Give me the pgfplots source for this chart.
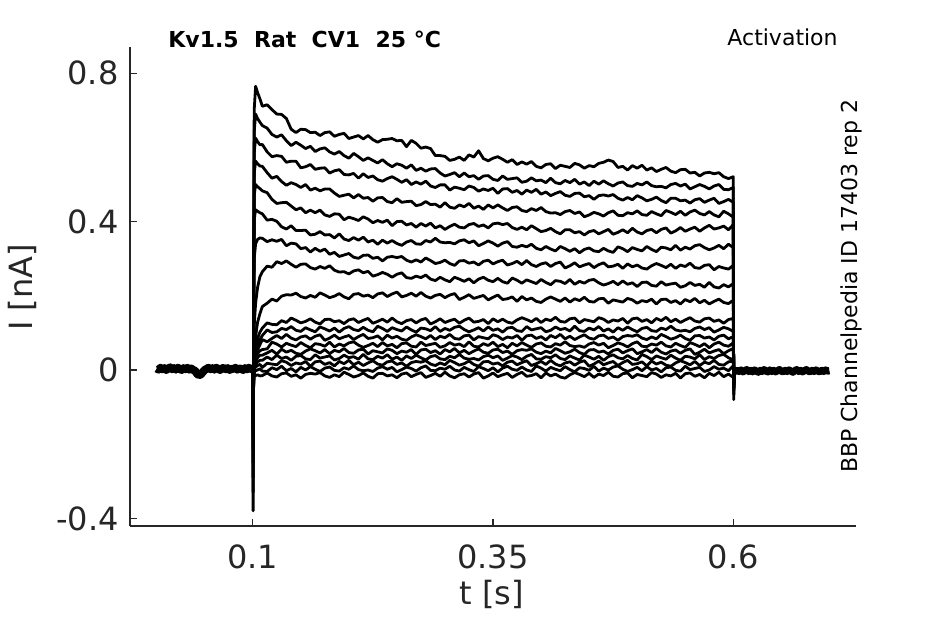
\documentclass[border=0pt]{standalone}
\usepackage{fontspec}
\setmainfont{DejaVu Sans}
\usepackage{pgfplots}
\usepackage{pgfplotstable}
\pgfplotsset{compat=1.18}
\definecolor{tickgray}{HTML}{262626}

\pgfplotstableread{
t T1 T2 T3 T4 T5 T6 T7 T8 T9 T10 T11 T12 T13 T14 T15 T16 T17 T18
0.1000 0.002 -0.001 0.003 0.000 -0.002 0.001 0.002 -0.001 0.000 0.003 -0.002 0.001 0.000 -0.003 0.002 0.001 -0.001 0.000
0.1004 -0.380 -0.330 -0.290 -0.250 -0.215 -0.185 -0.160 -0.140 -0.120 -0.105 -0.095 -0.085 -0.075 -0.065 -0.055 -0.050 -0.045 -0.040
0.1015 0.700 0.640 0.585 0.530 0.470 0.405 0.300 0.120 0.040 0.030 0.025 0.020 0.015 0.010 0.006 0.002 -0.005 -0.012
0.1030 0.765 0.690 0.625 0.563 0.500 0.432 0.340 0.180 0.090 0.060 0.050 0.040 0.032 0.024 0.015 0.008 -0.002 -0.015
0.1050 0.748 0.678 0.616 0.556 0.494 0.428 0.352 0.222 0.128 0.085 0.068 0.055 0.044 0.033 0.022 0.012 0.000 -0.013
0.1075 0.731 0.668 0.607 0.550 0.489 0.424 0.356 0.252 0.152 0.102 0.082 0.068 0.052 0.040 0.026 0.015 0.003 -0.016
0.110 0.711 0.659 0.608 0.549 0.483 0.421 0.355 0.265 0.171 0.113 0.093 0.082 0.055 0.040 0.026 0.007 -0.003 -0.015
0.115 0.715 0.652 0.588 0.532 0.478 0.404 0.346 0.280 0.180 0.127 0.108 0.076 0.057 0.046 0.035 0.018 -0.004 -0.008
0.120 0.702 0.635 0.575 0.517 0.460 0.406 0.351 0.277 0.191 0.123 0.101 0.085 0.075 0.053 0.028 0.016 0.006 -0.016
0.125 0.690 0.628 0.578 0.522 0.449 0.401 0.347 0.292 0.186 0.122 0.103 0.093 0.070 0.043 0.040 0.014 0.001 -0.019
0.130 0.689 0.634 0.576 0.508 0.451 0.386 0.352 0.287 0.199 0.133 0.112 0.085 0.062 0.056 0.031 0.025 0.010 -0.010
0.135 0.678 0.618 0.560 0.498 0.452 0.380 0.335 0.294 0.203 0.128 0.109 0.096 0.072 0.048 0.035 0.021 -0.002 -0.008
0.140 0.649 0.605 0.563 0.505 0.442 0.389 0.342 0.285 0.202 0.140 0.117 0.086 0.067 0.053 0.026 0.012 0.004 -0.017
0.145 0.640 0.614 0.563 0.500 0.432 0.376 0.340 0.277 0.207 0.134 0.107 0.081 0.063 0.045 0.037 0.019 -0.005 -0.013
0.150 0.649 0.606 0.545 0.492 0.437 0.376 0.327 0.285 0.198 0.127 0.104 0.089 0.074 0.042 0.039 0.016 0.007 -0.022
0.155 0.648 0.597 0.548 0.500 0.424 0.377 0.330 0.286 0.194 0.131 0.114 0.092 0.066 0.051 0.030 0.023 0.000 -0.012
0.160 0.640 0.603 0.554 0.485 0.431 0.364 0.318 0.276 0.201 0.138 0.108 0.083 0.060 0.057 0.028 0.010 0.009 -0.009
0.165 0.641 0.589 0.541 0.490 0.424 0.366 0.328 0.272 0.196 0.129 0.103 0.091 0.071 0.052 0.041 0.022 0.002 -0.011
0.170 0.632 0.596 0.544 0.483 0.431 0.373 0.320 0.279 0.208 0.124 0.116 0.095 0.069 0.046 0.032 0.024 -0.004 -0.007
0.175 0.640 0.599 0.545 0.488 0.418 0.364 0.326 0.274 0.202 0.136 0.111 0.080 0.064 0.055 0.035 0.015 0.005 -0.016
0.180 0.642 0.588 0.531 0.488 0.414 0.365 0.312 0.281 0.195 0.137 0.105 0.086 0.075 0.044 0.038 0.020 0.008 -0.020
0.185 0.630 0.582 0.537 0.477 0.421 0.356 0.317 0.269 0.199 0.130 0.113 0.094 0.062 0.053 0.027 0.011 -0.001 -0.013
0.190 0.635 0.589 0.540 0.468 0.420 0.367 0.306 0.264 0.206 0.133 0.102 0.084 0.070 0.049 0.031 0.023 -0.003 -0.018
0.195 0.638 0.578 0.527 0.471 0.405 0.353 0.310 0.265 0.197 0.125 0.112 0.089 0.065 0.058 0.040 0.017 0.006 -0.006
0.200 0.624 0.571 0.526 0.474 0.412 0.349 0.314 0.259 0.192 0.135 0.117 0.093 0.073 0.047 0.033 0.026 0.002 -0.012
0.205 0.628 0.584 0.530 0.464 0.408 0.357 0.304 0.267 0.204 0.138 0.109 0.082 0.076 0.045 0.036 0.014 0.011 -0.019
0.210 0.632 0.575 0.517 0.473 0.403 0.350 0.301 0.270 0.206 0.128 0.106 0.090 0.067 0.054 0.029 0.021 0.001 -0.015
0.215 0.623 0.565 0.529 0.463 0.413 0.358 0.309 0.262 0.199 0.134 0.115 0.096 0.061 0.056 0.042 0.012 -0.002 -0.008
0.220 0.632 0.572 0.519 0.465 0.407 0.345 0.310 0.266 0.202 0.139 0.107 0.085 0.066 0.043 0.030 0.019 0.000 -0.017
0.225 0.621 0.565 0.523 0.455 0.397 0.350 0.301 0.253 0.195 0.126 0.103 0.087 0.072 0.052 0.028 0.025 -0.004 -0.022
0.230 0.614 0.558 0.513 0.464 0.403 0.339 0.304 0.257 0.205 0.131 0.118 0.092 0.063 0.049 0.037 0.016 0.005 -0.010
0.235 0.621 0.567 0.509 0.465 0.398 0.350 0.294 0.263 0.208 0.137 0.112 0.081 0.074 0.046 0.032 0.013 0.009 -0.009
0.240 0.622 0.556 0.516 0.454 0.404 0.342 0.304 0.258 0.198 0.129 0.104 0.094 0.065 0.057 0.041 0.022 0.002 -0.016
0.245 0.624 0.548 0.521 0.451 0.389 0.349 0.306 0.250 0.205 0.140 0.114 0.086 0.069 0.053 0.029 0.024 0.007 -0.013
0.250 0.618 0.556 0.514 0.462 0.400 0.341 0.303 0.258 0.210 0.130 0.109 0.091 0.060 0.044 0.035 0.015 -0.005 -0.021
0.255 0.619 0.552 0.506 0.452 0.401 0.336 0.306 0.262 0.197 0.125 0.105 0.083 0.071 0.051 0.026 0.019 0.001 -0.011
0.260 0.602 0.544 0.513 0.454 0.391 0.345 0.296 0.249 0.201 0.133 0.116 0.080 0.073 0.048 0.038 0.010 0.008 -0.008
0.265 0.619 0.553 0.500 0.455 0.395 0.349 0.291 0.247 0.207 0.136 0.108 0.089 0.064 0.055 0.031 0.020 0.004 -0.018
0.270 0.611 0.538 0.507 0.443 0.385 0.340 0.297 0.253 0.199 0.127 0.102 0.095 0.062 0.042 0.040 0.023 -0.003 -0.012
0.275 0.598 0.544 0.501 0.446 0.395 0.339 0.291 0.249 0.209 0.135 0.113 0.090 0.075 0.054 0.033 0.021 0.006 -0.007
0.280 0.601 0.536 0.509 0.454 0.388 0.349 0.302 0.256 0.199 0.139 0.111 0.084 0.066 0.056 0.027 0.025 0.011 -0.020
0.285 0.597 0.542 0.496 0.446 0.396 0.345 0.295 0.245 0.194 0.124 0.106 0.093 0.069 0.047 0.036 0.016 -0.001 -0.015
0.290 0.578 0.543 0.492 0.447 0.383 0.355 0.287 0.241 0.201 0.130 0.117 0.082 0.072 0.052 0.039 0.012 -0.002 -0.009
0.295 0.578 0.531 0.499 0.439 0.389 0.345 0.290 0.250 0.204 0.138 0.104 0.091 0.061 0.043 0.030 0.019 0.005 -0.017
0.300 0.576 0.523 0.499 0.451 0.379 0.343 0.296 0.243 0.195 0.128 0.112 0.087 0.065 0.055 0.028 0.014 0.002 -0.006
0.305 0.565 0.527 0.485 0.439 0.387 0.344 0.287 0.238 0.202 0.133 0.107 0.096 0.074 0.049 0.037 0.026 0.010 -0.016
0.310 0.568 0.532 0.493 0.436 0.393 0.340 0.282 0.250 0.206 0.137 0.115 0.085 0.067 0.058 0.033 0.020 0.000 -0.021
0.315 0.574 0.521 0.490 0.445 0.385 0.348 0.294 0.245 0.190 0.126 0.118 0.083 0.070 0.046 0.042 0.013 -0.003 -0.013
0.320 0.565 0.531 0.486 0.440 0.383 0.351 0.295 0.239 0.196 0.134 0.109 0.092 0.063 0.053 0.032 0.017 0.007 -0.010
0.325 0.580 0.521 0.496 0.449 0.392 0.343 0.288 0.246 0.203 0.140 0.103 0.094 0.076 0.044 0.029 0.024 0.001 -0.019
0.330 0.574 0.524 0.492 0.436 0.395 0.348 0.291 0.235 0.193 0.129 0.108 0.081 0.064 0.051 0.031 0.015 -0.004 -0.011
0.335 0.591 0.514 0.482 0.442 0.387 0.335 0.283 0.245 0.197 0.131 0.114 0.090 0.062 0.057 0.027 0.010 0.009 -0.007
0.340 0.570 0.523 0.488 0.433 0.391 0.341 0.293 0.250 0.201 0.136 0.105 0.087 0.071 0.048 0.036 0.022 0.004 -0.022
0.345 0.564 0.524 0.484 0.445 0.383 0.348 0.296 0.242 0.189 0.125 0.116 0.084 0.066 0.045 0.040 0.023 -0.002 -0.016
0.350 0.571 0.514 0.490 0.437 0.394 0.342 0.286 0.238 0.196 0.138 0.107 0.095 0.075 0.054 0.033 0.016 0.006 -0.008
0.355 0.575 0.511 0.476 0.445 0.396 0.334 0.292 0.247 0.202 0.130 0.111 0.091 0.063 0.056 0.038 0.019 -0.005 -0.018
0.360 0.568 0.523 0.488 0.437 0.392 0.342 0.296 0.238 0.190 0.137 0.102 0.082 0.069 0.047 0.026 0.011 0.005 -0.013
0.365 0.560 0.514 0.489 0.430 0.395 0.346 0.283 0.234 0.192 0.129 0.113 0.089 0.060 0.051 0.032 0.021 0.010 -0.009
0.370 0.567 0.516 0.479 0.438 0.384 0.333 0.287 0.248 0.197 0.126 0.115 0.086 0.072 0.042 0.039 0.024 0.002 -0.020
0.375 0.554 0.518 0.484 0.440 0.379 0.331 0.293 0.242 0.185 0.135 0.106 0.093 0.065 0.052 0.035 0.014 -0.001 -0.012
0.380 0.561 0.506 0.474 0.430 0.385 0.336 0.284 0.234 0.198 0.141 0.104 0.080 0.074 0.055 0.028 0.020 0.008 -0.006
0.385 0.555 0.509 0.485 0.427 0.378 0.332 0.295 0.243 0.189 0.136 0.117 0.092 0.067 0.053 0.037 0.025 0.000 -0.017
0.390 0.562 0.518 0.479 0.435 0.389 0.339 0.284 0.238 0.194 0.130 0.108 0.094 0.061 0.057 0.042 0.012 -0.004 -0.015
0.395 0.549 0.510 0.487 0.430 0.381 0.328 0.279 0.233 0.185 0.139 0.111 0.085 0.070 0.048 0.030 0.017 0.011 -0.010
0.400 0.545 0.512 0.474 0.438 0.373 0.324 0.286 0.244 0.182 0.128 0.114 0.090 0.073 0.044 0.029 0.023 0.005 -0.021
0.405 0.554 0.505 0.480 0.427 0.376 0.333 0.289 0.236 0.191 0.137 0.103 0.081 0.064 0.051 0.036 0.015 -0.003 -0.008
0.410 0.556 0.517 0.470 0.423 0.382 0.326 0.279 0.230 0.197 0.133 0.107 0.093 0.062 0.046 0.033 0.026 0.007 -0.016
0.415 0.543 0.505 0.476 0.424 0.373 0.321 0.287 0.241 0.191 0.142 0.116 0.087 0.071 0.058 0.041 0.016 0.002 -0.011
0.420 0.552 0.502 0.481 0.419 0.367 0.333 0.291 0.239 0.185 0.131 0.109 0.096 0.067 0.052 0.031 0.011 -0.002 -0.019
0.425 0.549 0.511 0.471 0.427 0.378 0.327 0.275 0.233 0.194 0.129 0.112 0.084 0.076 0.045 0.028 0.019 0.009 -0.022
0.430 0.546 0.505 0.468 0.430 0.378 0.320 0.281 0.244 0.183 0.138 0.105 0.091 0.066 0.049 0.038 0.022 0.001 -0.013
0.435 0.557 0.514 0.476 0.422 0.370 0.327 0.289 0.231 0.192 0.140 0.118 0.082 0.063 0.056 0.032 0.013 -0.005 -0.007
0.440 0.553 0.501 0.477 0.426 0.373 0.316 0.278 0.239 0.187 0.127 0.106 0.089 0.065 0.047 0.027 0.021 0.006 -0.012
0.445 0.544 0.507 0.467 0.413 0.364 0.325 0.283 0.234 0.196 0.136 0.104 0.095 0.061 0.042 0.040 0.025 0.004 -0.018
0.450 0.551 0.497 0.470 0.418 0.373 0.329 0.287 0.242 0.185 0.133 0.113 0.086 0.070 0.054 0.035 0.010 -0.001 -0.009
0.455 0.548 0.509 0.460 0.425 0.376 0.321 0.276 0.244 0.183 0.130 0.108 0.083 0.074 0.055 0.029 0.016 0.010 -0.020
0.460 0.557 0.501 0.470 0.421 0.367 0.319 0.284 0.235 0.192 0.141 0.117 0.092 0.067 0.048 0.037 0.024 -0.003 -0.011
0.465 0.560 0.510 0.472 0.415 0.373 0.328 0.289 0.229 0.193 0.137 0.105 0.094 0.072 0.051 0.026 0.014 0.005 -0.015
0.470 0.566 0.502 0.469 0.424 0.379 0.321 0.278 0.233 0.180 0.128 0.111 0.085 0.060 0.043 0.036 0.019 0.000 -0.006
0.475 0.562 0.496 0.473 0.429 0.366 0.317 0.280 0.239 0.189 0.135 0.102 0.089 0.066 0.053 0.041 0.023 0.008 -0.017
0.480 0.546 0.504 0.463 0.417 0.371 0.332 0.285 0.230 0.186 0.132 0.114 0.080 0.073 0.056 0.033 0.012 0.011 -0.019
0.485 0.549 0.507 0.458 0.416 0.378 0.327 0.274 0.240 0.183 0.139 0.107 0.090 0.069 0.046 0.030 0.020 0.002 -0.010
0.490 0.539 0.497 0.465 0.424 0.370 0.319 0.286 0.231 0.193 0.126 0.116 0.093 0.062 0.052 0.039 0.026 -0.004 -0.008
0.495 0.551 0.495 0.459 0.421 0.382 0.330 0.278 0.235 0.189 0.138 0.109 0.091 0.071 0.057 0.031 0.015 0.001 -0.021
0.500 0.544 0.503 0.470 0.429 0.372 0.325 0.283 0.225 0.180 0.140 0.103 0.095 0.076 0.044 0.027 0.017 0.007 -0.012
0.505 0.552 0.499 0.464 0.419 0.367 0.321 0.275 0.236 0.187 0.131 0.112 0.086 0.064 0.049 0.042 0.022 -0.002 -0.015
0.510 0.539 0.507 0.456 0.417 0.376 0.333 0.272 0.237 0.184 0.136 0.115 0.082 0.063 0.055 0.036 0.011 0.009 -0.018
0.515 0.545 0.497 0.460 0.427 0.379 0.325 0.281 0.228 0.191 0.127 0.106 0.089 0.070 0.047 0.028 0.024 0.000 -0.007
0.520 0.535 0.494 0.466 0.421 0.370 0.319 0.287 0.226 0.178 0.139 0.104 0.084 0.067 0.058 0.038 0.016 0.004 -0.011
0.525 0.541 0.495 0.457 0.416 0.379 0.331 0.282 0.238 0.190 0.133 0.113 0.096 0.075 0.048 0.033 0.021 -0.005 -0.020
0.530 0.546 0.491 0.451 0.430 0.383 0.329 0.276 0.229 0.191 0.142 0.109 0.090 0.065 0.043 0.029 0.013 0.006 -0.013
0.535 0.536 0.500 0.463 0.425 0.369 0.324 0.285 0.232 0.182 0.130 0.118 0.083 0.062 0.051 0.040 0.010 0.008 -0.016
0.540 0.532 0.503 0.463 0.419 0.375 0.336 0.274 0.234 0.187 0.137 0.108 0.087 0.072 0.054 0.032 0.019 -0.001 -0.009
0.545 0.540 0.496 0.456 0.428 0.384 0.323 0.283 0.223 0.178 0.128 0.105 0.094 0.066 0.045 0.026 0.025 -0.003 -0.022
0.550 0.541 0.501 0.458 0.417 0.374 0.331 0.279 0.227 0.190 0.135 0.107 0.085 0.061 0.053 0.037 0.020 0.010 -0.010
0.555 0.531 0.488 0.450 0.426 0.380 0.326 0.288 0.236 0.184 0.141 0.103 0.080 0.074 0.057 0.035 0.014 0.001 -0.008
0.560 0.533 0.494 0.459 0.431 0.385 0.335 0.276 0.228 0.193 0.132 0.112 0.092 0.069 0.042 0.030 0.023 0.004 -0.017
0.565 0.523 0.500 0.462 0.422 0.374 0.338 0.274 0.231 0.181 0.129 0.116 0.093 0.063 0.048 0.041 0.012 0.007 -0.012
0.570 0.531 0.495 0.452 0.418 0.383 0.330 0.282 0.223 0.188 0.138 0.109 0.086 0.071 0.056 0.028 0.021 -0.004 -0.021
0.575 0.533 0.488 0.458 0.427 0.390 0.324 0.284 0.236 0.178 0.140 0.114 0.089 0.060 0.046 0.036 0.017 0.000 -0.009
0.580 0.529 0.496 0.463 0.418 0.380 0.329 0.270 0.224 0.185 0.131 0.102 0.081 0.070 0.051 0.031 0.026 0.009 -0.015
0.585 0.532 0.500 0.449 0.413 0.383 0.336 0.279 0.221 0.191 0.135 0.108 0.091 0.075 0.055 0.039 0.015 0.002 -0.006
0.590 0.521 0.487 0.454 0.428 0.388 0.327 0.275 0.230 0.182 0.126 0.115 0.094 0.067 0.044 0.042 0.013 0.005 -0.018
0.595 0.516 0.486 0.460 0.421 0.378 0.339 0.272 0.224 0.179 0.136 0.111 0.084 0.064 0.052 0.033 0.022 -0.002 -0.011
0.600 0.521 0.492 0.452 0.412 0.392 0.330 0.282 0.233 0.188 0.139 0.104 0.090 0.073 0.058 0.027 0.024 0.011 -0.020
0.6004 -0.080 -0.066 -0.056 -0.048 -0.042 -0.036 -0.030 -0.025 -0.020 -0.016 -0.013 -0.011 -0.009 -0.008 -0.007 -0.006 -0.005 -0.004
0.6015 -0.004 -0.002 -0.005 0.000 -0.003 -0.001 -0.004 0.001 -0.002 -0.005 -0.001 -0.003 0.000 -0.004 -0.002 -0.003 -0.001 -0.004
}\traces

\pgfplotstableread{
t v
0.000 0.004
0.002 0.001
0.004 0.006
0.006 0.002
0.008 0.005
0.010 0.000
0.012 0.004
0.014 0.007
0.016 0.002
0.018 0.005
0.020 0.001
0.022 0.006
0.024 0.003
0.026 0.000
0.028 0.005
0.030 0.002
0.032 0.006
0.034 0.001
0.036 0.004
0.038 0.000
0.040 -0.002
0.042 -0.010
0.044 -0.014
0.046 -0.012
0.048 -0.006
0.050 0.000
0.052 0.003
0.054 0.006
0.056 0.002
0.058 0.005
0.060 0.001
0.062 0.006
0.064 0.003
0.066 0.000
0.068 0.004
0.070 0.006
0.072 0.002
0.074 0.005
0.076 0.000
0.078 0.004
0.080 0.002
0.082 0.006
0.084 0.001
0.086 0.004
0.088 0.003
0.090 0.000
0.092 0.005
0.094 0.002
0.096 0.006
0.098 0.002
0.100 0.003
}\prebase

\pgfplotstableread{
t v
0.6015 -0.004
0.604 -0.001
0.606 -0.004
0.608 0.000
0.610 -0.005
0.612 -0.002
0.614 0.001
0.616 -0.004
0.618 -0.001
0.620 -0.005
0.622 0.000
0.624 -0.003
0.626 -0.006
0.628 -0.001
0.630 -0.004
0.632 0.001
0.634 -0.003
0.636 -0.005
0.638 0.000
0.640 -0.004
0.642 -0.001
0.644 -0.005
0.646 -0.002
0.648 0.001
0.650 -0.003
0.652 -0.005
0.654 -0.001
0.656 -0.004
0.658 0.000
0.660 -0.003
0.662 -0.006
0.664 -0.002
0.666 0.001
0.668 -0.004
0.670 -0.001
0.672 -0.005
0.674 -0.002
0.676 0.001
0.678 -0.003
0.680 -0.005
0.682 -0.001
0.684 -0.004
0.686 0.000
0.688 -0.003
0.690 -0.005
0.692 -0.001
0.694 -0.004
0.696 0.000
0.698 -0.003
0.700 -0.002
}\postbase

\begin{document}
\begin{tikzpicture}
\path[use as bounding box] (0,0) rectangle (472.5pt,312pt);
\begin{axis}[
  at={(65pt,49pt)}, anchor=south west,
  scale only axis, width=363pt, height=239.35pt,
  xmin=-0.0277, xmax=0.7277, ymin=-0.4206, ymax=0.870,
  axis x line*=bottom, axis y line*=left,
  tick align=inside, major tick length=3.5pt,
  xtick={0.1,0.35,0.6}, xticklabels={0.1,0.35,0.6},
  ytick={-0.4,0,0.4,0.8}, yticklabels={-0.4,0,0.4,0.8},
  ticklabel style={font=\fontsize{16}{19}\selectfont, text=tickgray},
  xticklabel style={yshift=-5.8pt},
  yticklabel style={xshift=-2.2pt},
  axis line style={tickgray, line width=0.6pt},
  every tick/.style={tickgray, line width=0.6pt},
]
\addplot[black, line width=4pt, line join=round] table[x=t, y=v]{\prebase};
\addplot[black, line width=3.6pt, line join=round] table[x=t, y=v]{\postbase};
\pgfplotsinvokeforeach{1,...,18}{
  \addplot[black, line width=1.4pt, line join=round] table[x=t, y=T#1]{\traces};
}
\end{axis}
\node[inner sep=0pt, anchor=base west, font=\bfseries\fontsize{11}{13}\selectfont] at (84pt,288.35pt) {Kv1.5\ \ Rat\ \ CV1\ \ 25 °C};
\node[inner sep=0pt, anchor=base east, font=\fontsize{11}{13}\selectfont] at (419pt,289pt) {Activation};
\node[inner sep=0pt, rotate=90, anchor=base west, font=\fontsize{11}{13}\selectfont] at (428.75pt,75.3pt) {BBP Channelpedia ID 17403 rep 2};
\node[inner sep=0pt, rotate=90, anchor=base, font=\fontsize{16}{19}\selectfont, text=tickgray] at (16.5pt,168.3pt) {I [nA]};
\node[inner sep=0pt, anchor=base, font=\fontsize{16}{19}\selectfont, text=tickgray] at (245.75pt,9.5pt) {t [s]};
\end{tikzpicture}
\end{document}
